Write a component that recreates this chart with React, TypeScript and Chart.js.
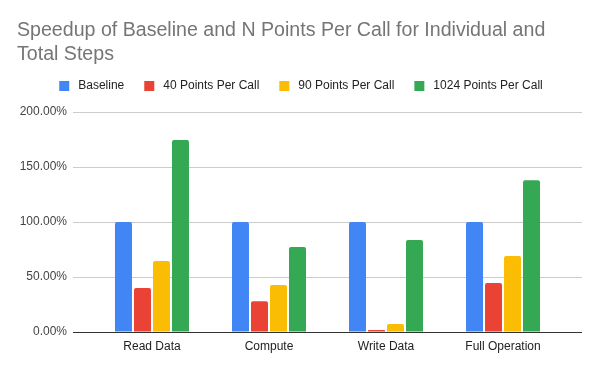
import React, { useEffect, useRef } from 'react';
import { Chart, registerables } from 'chart.js';

Chart.register(...registerables);

const categories = ['Read Data', 'Compute', 'Write Data', 'Full Operation'];
const seriesNames = ['Baseline', '40 Points Per Call', '90 Points Per Call', '1024 Points Per Call'];
const baseline = [100, 100, 100, 100];
const points40 = [40, 28, 1.8, 44.5];
const points90 = [64.5, 42.7, 7.3, 69];
const points1024 = [174.5, 77.3, 83.6, 138];
const seriesColors = ['#4285F4', '#EA4335', '#FBBC04', '#34A853'];
const yTicks = [0, 50, 100, 150, 200];
const titleLines = ['Speedup of Baseline and N Points Per Call for Individual and', 'Total Steps'];

const FONT = "'Liberation Sans', Arial, sans-serif";

const legendFitPlugin = {
  id: 'legendFit',
  beforeLayout(chart: any) {
    const lg = chart.legend;
    if (lg && !lg.__patched) {
      const orig = lg.fit;
      lg.fit = function () {
        orig.call(this);
        this.height = 51;
      };
      lg.__patched = true;
    }
  },
};

export default function App() {
  const ref = useRef<HTMLCanvasElement | null>(null);

  useEffect(() => {
    if (!ref.current) return;
    const allSeries = [baseline, points40, points90, points1024];
    const chart = new Chart(ref.current, {
      type: 'bar',
      data: {
        datasets: allSeries.map((vals, si) => ({
          label: seriesNames[si],
          data: vals.map((v, i) => ({ x: i, y: v })),
          backgroundColor: seriesColors[si],
          borderWidth: 0,
          borderRadius: 2,
          categoryPercentage: 0.6496,
          barPercentage: 0.8947,
        })),
      },
      options: {
        responsive: false,
        animation: false,
        devicePixelRatio: 1,
        layout: { padding: { left: 17, right: 18, top: 0, bottom: 0 } },
        plugins: {
          title: {
            display: true,
            text: titleLines,
            align: 'start',
            color: '#757575',
            font: { family: FONT, size: 19.6, weight: 'normal', lineHeight: 24 / 19.6 },
            padding: { top: 18.5, bottom: -5.5 },
          },
          legend: {
            display: true,
            position: 'top',
            align: 'center',
            labels: {
              boxWidth: 16,
              boxHeight: 16,
              padding: 17,
              color: '#222222',
              font: { family: FONT, size: 12 },
              generateLabels: (c: any) =>
                (Chart as any).defaults.plugins.legend.labels
                  .generateLabels(c)
                  .map((it: any) => ({ ...it, strokeStyle: '#ffffff', lineWidth: 6 })),
            },
          },
          tooltip: { enabled: false },
        },
        scales: {
          x: {
            type: 'linear',
            min: -0.675,
            max: 3.675,
            offset: false,
            grid: { display: false },
            border: { display: false },
            afterBuildTicks: (scale: any) => {
              scale.ticks = categories.map((_, i) => ({ value: i }));
            },
            afterFit: (scale: any) => {
              scale.height = 39;
            },
            ticks: {
              autoSkip: false,
              maxRotation: 0,
              padding: -1,
              color: '#222222',
              font: { family: FONT, size: 12 },
              callback: (v: any) => categories[Number(v)] ?? '',
            },
          },
          y: {
            type: 'linear',
            min: 0,
            max: 200,
            afterBuildTicks: (scale: any) => {
              scale.ticks = yTicks.map((v) => ({ value: v }));
            },
            afterFit: (scale: any) => {
              scale.width = 56;
            },
            border: { display: false },
            grid: {
              drawTicks: false,
              color: (ctx: any) => (ctx.tick && ctx.tick.value === 0 ? '#333333' : '#cccccc'),
              lineWidth: 1,
            },
            ticks: {
              padding: 6,
              color: '#444444',
              font: { family: FONT, size: 12 },
              callback: (v: any) => Number(v).toFixed(2) + '%',
            },
          },
        },
      },
      plugins: [legendFitPlugin],
    } as any);
    return () => chart.destroy();
  }, []);

  return (
    <div style={{ position: 'absolute', left: 0, top: 0, width: 600, height: 371, background: '#fff' }}>
      <canvas ref={ref} width={600} height={371} />
    </div>
  );
}
